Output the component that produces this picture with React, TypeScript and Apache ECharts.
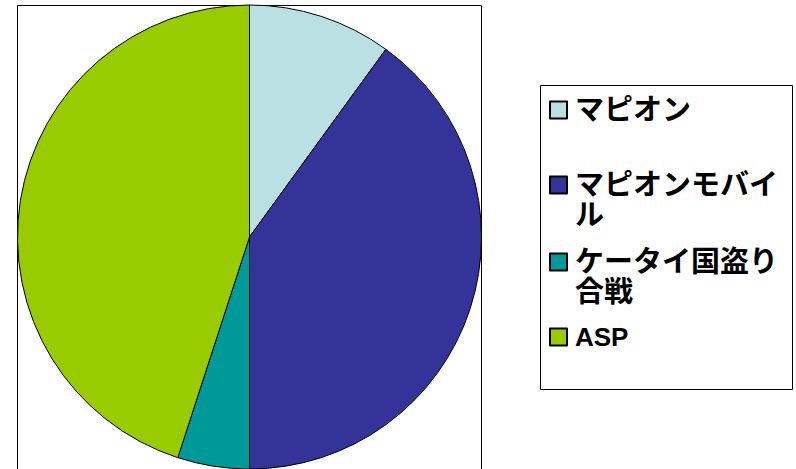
import React, { useEffect, useRef } from "react";
import * as echarts from "echarts";

const categories = ["マピオン", "マピオンモバイル", "ケータイ国盗り合戦", "ASP"];
const legendLabels = ["マピオン", "\nマピオンモバイ\nル", "\nケータイ国盗り\n合戦", "ASP"];
const values = [10, 40, 5, 45];
const colors = ["#BBE0E3", "#333399", "#009999", "#99CC00"];
const legendCenters = [110, 185, 262, 337];

export default function App() {
  const ref = useRef<HTMLDivElement>(null);
  useEffect(() => {
    if (!ref.current) return;
    const chart = echarts.init(ref.current, null, { renderer: "svg" });
    const font = "'Liberation Sans', Arial, 'Noto Sans CJK JP', sans-serif";
    const legends = categories.map((name, i) => {
      const multi = legendLabels[i].includes("\n");
      const latin = name === "ASP";
      return {
        data: [name],
        orient: "vertical" as const,
        left: 549,
        top: legendCenters[i] - (multi ? 45 : 15),
        padding: 0,
        itemWidth: 17,
        itemHeight: 17,
        icon: "rect",
        formatter: () => legendLabels[i],
        selectedMode: false,
        textStyle: {
          fontFamily: font,
          fontSize: latin ? 26 : 29,
          fontWeight: "bold" as const,
          color: "#000",
          lineHeight: 30,
          padding: [0, 0, 0, latin ? 3 : 3],
        },
      };
    });
    chart.setOption({
      animation: false,
      legend: legends,
      graphic: [
        {
          type: "rect",
          shape: { x: 17.5, y: 5.5, width: 464, height: 480 },
          style: { fill: "none", stroke: "#000", lineWidth: 1 },
          silent: true,
        },
        {
          type: "rect",
          shape: { x: 540.5, y: 85.5, width: 252, height: 304 },
          style: { fill: "none", stroke: "#000", lineWidth: 1 },
          silent: true,
        },
      ],
      series: [
        {
          type: "pie",
          center: [249.5, 237],
          radius: 232,
          startAngle: 90,
          clockwise: true,
          label: { show: false },
          labelLine: { show: false },
          emphasis: { disabled: true },
          itemStyle: { borderColor: "#000", borderWidth: 1 },
          data: categories.map((name, i) => ({
            name,
            value: values[i],
            itemStyle: { color: colors[i] },
          })),
        },
      ],
    });
    return () => chart.dispose();
  }, []);
  return (
    <div
      ref={ref}
      style={{ position: "absolute", left: 0, top: 0, width: 796, height: 469, background: "#fff" }}
    />
  );
}
